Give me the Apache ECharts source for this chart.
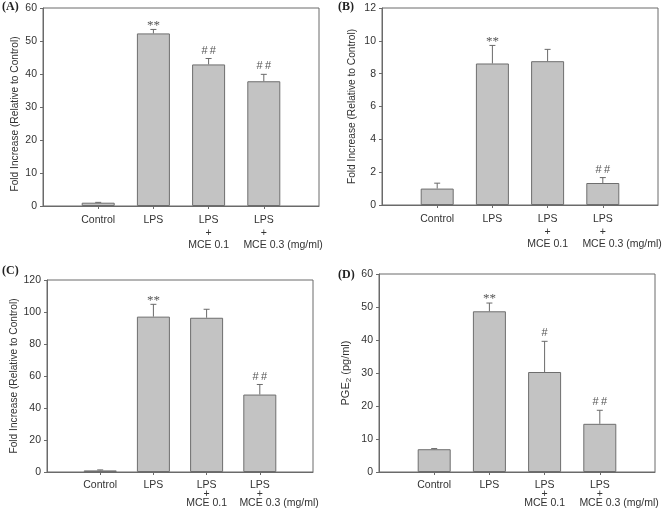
<!DOCTYPE html>
<html>
<head>
<meta charset="utf-8">
<script src="https://cdn.jsdelivr.net/npm/echarts@6/dist/echarts.min.js"></script>
<style>
  html, body { margin: 0; padding: 0; background: #fff; }
  #chart { width: 671px; height: 515px; }
</style>
</head>
<body>
<div id="chart"></div>
<script>
// ---- data ----
const categories = ['Control', 'LPS', 'LPS\n+\nMCE 0.1', 'LPS\n+\nMCE 0.3'];
const unitNote = '(mg/ml)';
const panelLetters = ['(A)', '(B)', '(C)', '(D)'];
const yNames = ['Fold Increase (Relative to Control)', 'Fold Increase (Relative to Control)',
                'Fold Increase (Relative to Control)', '{a|PGE}{s|2}{a| (pg/ml)}'];

const aValues = [1.0, 52.3, 42.9, 37.8];
const aErrors = [0.1, 1.2, 1.8, 2.1];
const aMarks  = ['', '**', '##', '##'];

const bValues = [1.0, 8.62, 8.76, 1.34];
const bErrors = [0.33, 1.1, 0.72, 0.33];
const bMarks  = ['', '**', '', '##'];

const cValues = [1.0, 97.1, 96.4, 48.4];
const cErrors = [0.3, 7.7, 5.3, 6.3];
const cMarks  = ['', '**', '', '##'];

const dValues = [6.9, 48.7, 30.3, 14.6];
const dErrors = [0.2, 2.5, 9.3, 4.1];
const dMarks  = ['', '**', '#', '##'];

const yMax      = [60, 12, 120, 60];
const yInterval = [10, 2, 20, 10];

// ---- layout / style ----
const grids = [
  { left: 43,  top: 8,   width: 276, height: 198 },
  { left: 382, top: 8,   width: 276, height: 197 },
  { left: 47,  top: 280, width: 266, height: 192 },
  { left: 379, top: 274, width: 276, height: 198 }
];
const letterPos = [[2, 1], [338, 1], [2, 265], [338, 269]];
const nameGaps = [23, 25, 27, 26];
const namePads = [[0, 14, 0, 0], 0, 0, 0];
const nameSizes = [10.2, 10.2, 10.2, 11];
const lineHeights = [12.5, 12.5, 9.3, 9.3];
const labelMargins = [8, 8, 8, 8];
const FONT = '"Liberation Sans", Arial, Helvetica, sans-serif';
const LINE = '#6a6a6a';
const TEXT = '#333';
const XFS = 10.5;

const panels = [
  [aValues, aErrors, aMarks], [bValues, bErrors, bMarks],
  [cValues, cErrors, cMarks], [dValues, dErrors, dMarks]
];

const chart = echarts.init(document.getElementById('chart'), null, { renderer: 'canvas' });

const option = {
  animation: false,
  backgroundColor: '#fff',
  grid: grids.map(g => Object.assign({ show: true, borderColor: LINE, borderWidth: 1, backgroundColor: 'transparent' }, g)),
  xAxis: grids.map((g, i) => ({
    type: 'value', gridIndex: i, min: 0, max: 5, interval: 1,
    splitLine: { show: false },
    axisLine: { show: true, lineStyle: { color: LINE } },
    axisTick: { show: true, customValues: [1, 2, 3, 4], length: 3, lineStyle: { color: LINE } },
    axisLabel: {
      customValues: [1, 2, 3, 4],
      formatter: v => categories[Math.round(v) - 1] || '',
      fontFamily: FONT, fontSize: XFS, color: TEXT, lineHeight: lineHeights[i], margin: labelMargins[i]
    }
  })),
  yAxis: grids.map((g, i) => ({
    type: 'value', gridIndex: i, min: 0, max: yMax[i], interval: yInterval[i],
    splitLine: { show: false },
    axisLine: { show: true, lineStyle: { color: LINE } },
    axisTick: { show: true, length: 3, lineStyle: { color: LINE } },
    axisLabel: { fontFamily: FONT, fontSize: 10.5, color: TEXT, margin: 6 },
    name: yNames[i], nameLocation: 'middle', nameGap: nameGaps[i],
    nameTextStyle: {
      fontFamily: FONT, fontSize: nameSizes[i], color: TEXT, padding: namePads[i],
      rich: {
        a: { fontFamily: FONT, fontSize: nameSizes[i], color: TEXT },
        s: { fontFamily: FONT, fontSize: 8, color: TEXT, verticalAlign: 'bottom', padding: [6, 0, 0, 0] }
      }
    }
  })),
  series: []
};

panels.forEach(([vals, errs, marks], i) => {
  option.series.push({
    type: 'bar', xAxisIndex: i, yAxisIndex: i,
    barWidth: 33,
    itemStyle: { color: '#c3c3c3', borderColor: '#6e6e6e', borderWidth: 1 },
    data: vals.map((v, k) => [k + 1, v]),
    z: 2
  });
  option.series.push({
    type: 'custom', xAxisIndex: i, yAxisIndex: i, z: 3,
    encode: { x: 0, y: 1 },
    data: vals.map((v, k) => [k + 1, v, errs[k]]),
    renderItem: (params, api) => {
      const x = api.value(0), y = api.value(1), e = api.value(2);
      const base = api.coord([x, y]);
      const top = api.coord([x, y + e]);
      const mark = marks[params.dataIndex];
      const children = [
        { type: 'line', shape: { x1: base[0], y1: base[1], x2: top[0], y2: top[1] },
          style: { stroke: '#6a6a6a', lineWidth: 1 } },
        { type: 'line', shape: { x1: top[0] - 3, y1: top[1], x2: top[0] + 3, y2: top[1] },
          style: { stroke: '#6a6a6a', lineWidth: 1 } }
      ];
      if (mark) {
        const star = mark.indexOf('*') >= 0;
        children.push({
          type: 'text',
          style: {
            x: top[0], y: top[1] - (star ? 4 : 8),
            text: star ? mark : mark.split('').join('\u2009'),
            fill: '#555', fontSize: star ? 13 : 11,
            fontFamily: star ? '"Liberation Serif", "Times New Roman", serif' : FONT,
            align: 'center', verticalAlign: 'middle'
          }
        });
      }
      return { type: 'group', children };
    }
  });
});

option.graphic = panelLetters.map((t, i) => ({
  type: 'text', left: letterPos[i][0], top: letterPos[i][1],
  style: { text: t, fill: '#222', font: 'bold 12px "Liberation Serif", "Times New Roman", serif' }
}));

chart.setOption(option);

// "(mg/ml)" note right after the last label's final line
const ctx = document.createElement('canvas').getContext('2d');
ctx.font = XFS + 'px ' + FONT;
const lastLine = categories[categories.length - 1].split('\n').pop();
const halfW = ctx.measureText(lastLine).width / 2;
const spaceW = ctx.measureText(' ').width;
const extra = grids.map((g, i) => {
  const px = chart.convertToPixel({ xAxisIndex: i }, categories.length);
  const axisY = g.top + g.height;
  return {
    type: 'text',
    x: px + halfW + spaceW,
    y: axisY + labelMargins[i] + 2 * lineHeights[i] + lineHeights[i] / 2,
    style: { text: unitNote, fill: TEXT, font: XFS + 'px ' + FONT,
             verticalAlign: 'middle', align: 'left' }
  };
});
chart.setOption({ graphic: option.graphic.concat(extra) });
</script>
</body>
</html>
